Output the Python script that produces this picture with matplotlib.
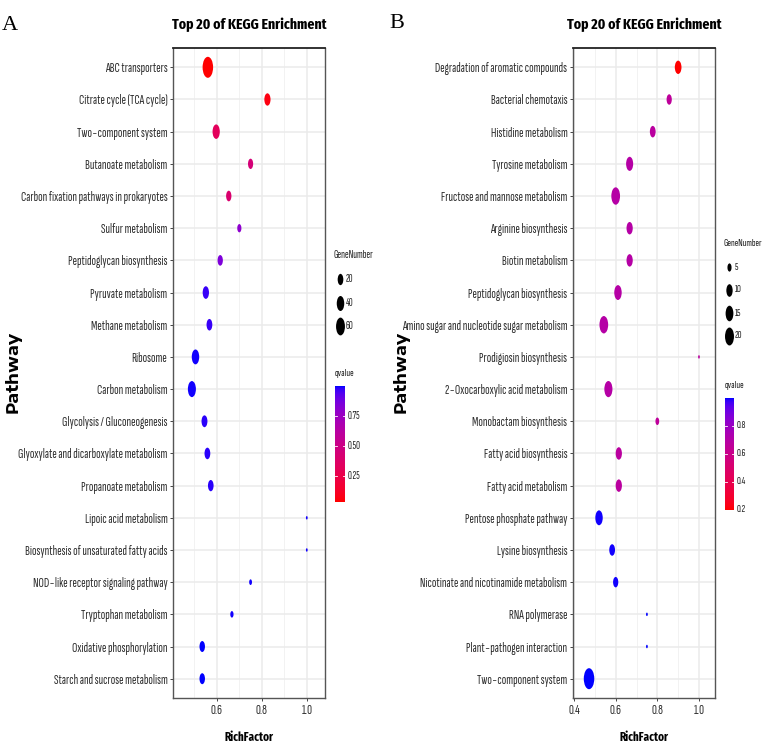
import numpy as np
import matplotlib
matplotlib.use("Agg")
import matplotlib.pyplot as plt
from matplotlib.path import Path
from matplotlib.transforms import Affine2D
from matplotlib.colors import ListedColormap, Normalize

# ---------------- data ----------------
pathways_a = ["ABC transporters", "Citrate cycle (TCA cycle)", "Two\u2212component system",
              "Butanoate metabolism", "Carbon fixation pathways in prokaryotes",
              "Sulfur metabolism", "Peptidoglycan biosynthesis", "Pyruvate metabolism",
              "Methane metabolism", "Ribosome", "Carbon metabolism",
              "Glycolysis / Gluconeogenesis", "Glyoxylate and dicarboxylate metabolism",
              "Propanoate metabolism", "Lipoic acid metabolism",
              "Biosynthesis of unsaturated fatty acids", "NOD\u2212like receptor signaling pathway",
              "Tryptophan metabolism", "Oxidative phosphorylation", "Starch and sucrose metabolism"]
rich_a = [0.56, 0.825, 0.597, 0.75, 0.653, 0.70, 0.615, 0.551, 0.567, 0.505,
          0.489, 0.545, 0.558, 0.573, 1.0, 1.0, 0.75, 0.667, 0.535, 0.535]
genes_a = [68, 19, 28, 12, 13, 7, 13, 20, 16, 30, 36, 17, 16, 15, 2, 2, 3, 4, 14, 14]
qval_a = [0.033, 0.06, 0.32, 0.44, 0.40, 0.80, 0.85, 0.97, 0.97, 0.99,
          0.99, 0.98, 0.98, 0.98, 0.99, 0.99, 0.99, 0.99, 0.997, 0.997]

pathways_b = ["Degradation of aromatic compounds", "Bacterial chemotaxis", "Histidine metabolism",
              "Tyrosine metabolism", "Fructose and mannose metabolism", "Arginine biosynthesis",
              "Biotin metabolism", "Peptidoglycan biosynthesis",
              "Amino sugar and nucleotide sugar metabolism", "Prodigiosin biosynthesis",
              "2\u2212Oxocarboxylic acid metabolism", "Monobactam biosynthesis",
              "Fatty acid biosynthesis", "Fatty acid metabolism", "Pentose phosphate pathway",
              "Lysine biosynthesis", "Nicotinate and nicotinamide metabolism", "RNA polymerase",
              "Plant\u2212pathogen interaction", "Two\u2212component system"]
rich_b = [0.9, 0.857, 0.778, 0.667, 0.6, 0.667, 0.667, 0.611, 0.543, 1.0,
          0.565, 0.8, 0.615, 0.615, 0.52, 0.583, 0.6, 0.75, 0.75, 0.472]
genes_b = [9, 6, 7, 10, 15, 8, 8, 11, 15, 3, 13, 4, 8, 8, 11, 7, 6, 3, 3, 22]
qval_b = [0.2, 0.66, 0.68, 0.70, 0.70, 0.70, 0.70, 0.70, 0.70, 0.68,
          0.70, 0.66, 0.68, 0.68, 0.995, 0.995, 0.995, 0.998, 0.998, 1.0]

xticks_a = [0.6, 0.8, 1.0]
xticks_b = [0.4, 0.6, 0.8, 1.0]
size_breaks_a = [20, 40, 60]
size_breaks_b = [5, 10, 15, 20]
cbar_ticks_a = [0.25, 0.50, 0.75]
cbar_ticks_b = [0.2, 0.4, 0.6, 0.8]

# ---------------- helpers ----------------
W, H = 767, 750
COND = ['Sofia Sans Extra Condensed', 'DejaVu Sans']
BOLDC = ['Fira Sans Extra Condensed', 'DejaVu Sans']
WIDE = ['Encode Sans Expanded', 'DejaVu Sans']


def srgb_to_lab(rgb):
    c = np.asarray(rgb, float)
    lin = np.where(c <= 0.04045, c / 12.92, ((c + 0.055) / 1.055) ** 2.4)
    M = np.array([[0.4124, 0.3576, 0.1805], [0.2126, 0.7152, 0.0722], [0.0193, 0.1192, 0.9505]])
    xyz = M @ lin / np.array([0.95047, 1.0, 1.08883])
    f = np.where(xyz > 0.008856, np.cbrt(xyz), 7.787 * xyz + 16 / 116)
    return np.array([116 * f[1] - 16, 500 * (f[0] - f[1]), 200 * (f[1] - f[2])])


def lab_to_srgb(lab):
    L, a, b = lab
    fy = (L + 16) / 116
    fx = fy + a / 500
    fz = fy - b / 200
    f = np.array([fx, fy, fz])
    xyz = np.where(f ** 3 > 0.008856, f ** 3, (f - 16 / 116) / 7.787) * np.array([0.95047, 1.0, 1.08883])
    Minv = np.linalg.inv(np.array([[0.4124, 0.3576, 0.1805], [0.2126, 0.7152, 0.0722], [0.0193, 0.1192, 0.9505]]))
    lin = np.clip(Minv @ xyz, 0, 1)
    c = np.where(lin <= 0.0031308, 12.92 * lin, 1.055 * lin ** (1 / 2.4) - 0.055)
    return np.clip(c, 0, 1)


lab_lo = srgb_to_lab([1, 0, 0])
lab_hi = srgb_to_lab([0, 0, 1])
cmap = ListedColormap([lab_to_srgb(lab_lo + (lab_hi - lab_lo) * t) for t in np.linspace(0, 1, 256)])

ell = Path.unit_circle().transformed(Affine2D().scale(0.5, 1.0))
K = 3.5


def msize(n, nmin, nmax):
    t = (np.asarray(n, float) - nmin) / (nmax - nmin)
    d_px = K * (1 + 5 * np.sqrt(np.clip(t, 0, None)))
    return (d_px * 72 / 100) ** 2


def fax(l, t, r, b):
    return [l / W, 1 - b / H, (r - l) / W, (b - t) / H]


fig = plt.figure(figsize=(W / 100, H / 100), dpi=100)
ov = fig.add_axes([0, 0, 1, 1], zorder=5)
ov.set_xlim(0, W)
ov.set_ylim(H, 0)
ov.axis('off')
ov.patch.set_alpha(0)

fits = []  # (list of texts, reference text, target width px)


def panel(rect, paths, rich, genes, qv, xlim, xticks, minor, letter, letter_xy,
          path_x, lab_w, sbreaks, sbreak_y, leg_x, cb_box, cb_ticks, cb_fmt, gn_w, num_s):
    ax = fig.add_axes(fax(*rect))
    n = len(paths)
    y = np.arange(n)
    nmin, nmax = min(genes), max(genes)
    norm = Normalize(min(qv), max(qv))
    ax.scatter(rich, y, s=msize(genes, nmin, nmax), c=qv, cmap=cmap, norm=norm,
               marker=ell, linewidths=0, zorder=3)
    ax.set_xlim(*xlim)
    ax.set_ylim(n - 0.4, -0.6)
    ax.set_yticks(y)
    ax.set_yticklabels(paths, family=COND, color='#2e2e2e')
    ax.set_xticks(xticks)
    ax.set_xticklabels([f"{v:.1f}" for v in xticks], family=COND, color='#2e2e2e')
    ax.set_xticks(minor, minor=True)
    ax.tick_params(axis='both', which='major', length=2.5, width=0.7, color='#444444', pad=1.5)
    ax.tick_params(axis='x', which='minor', length=0)
    ax.grid(True, which='major', color='#EBEBEB', lw=1.1, zorder=0)
    ax.grid(True, which='minor', axis='x', color='#F2F2F2', lw=0.7, zorder=0)
    ax.set_axisbelow(True)
    for sp in ax.spines.values():
        sp.set_color('#555555')
        sp.set_linewidth(1.0)
    ax.spines['top'].set_color('#222222')
    ax.spines['top'].set_linewidth(1.3)
    fits.append(('yt', ax, lab_w))
    fits.append(('xt', ax, 12))

    cx = (rect[0] + rect[2]) / 2
    tt = ov.text(cx, 25, "Top 20 of KEGG Enrichment", ha='center', va='center',
                 family=BOLDC, fontweight='bold', color='black')
    fits.append(([tt], tt, 155))
    xl = ov.text(cx, 737, "RichFactor", ha='center', va='center', family=BOLDC,
                 fontweight='bold', color='black')
    fits.append(([xl], xl, 49))
    pl = ov.text(path_x, 372, "Pathway", ha='center', va='center', rotation=90,
                 family=WIDE, fontweight='bold', color='black')
    fits.append(([pl], pl, 82))
    ov.text(*letter_xy, letter, ha='center', va='center', family='Liberation Serif',
            fontsize=16, color='black')

    # size legend
    gt = ov.text(leg_x - 6, sbreak_y[0] - 24, "GeneNumber", ha='left', va='center',
                 family=COND, color='#222222', fontsize=7)
    fits.append(([gt], gt, gn_w))
    nums = []
    for v, yy in zip(sbreaks, sbreak_y):
        ov.scatter([leg_x], [yy], s=msize(v, nmin, nmax) * 0.8, c='black', marker=ell, linewidths=0)
        nums.append(ov.text(leg_x + 6, yy, str(v), ha='left', va='center', family=COND,
                            color='#222222', fontsize=7))
    # colour bar
    l, t, r, b = cb_box
    grad = np.linspace(norm.vmax, norm.vmin, 200).reshape(-1, 1)
    ov.imshow(grad, cmap=cmap, norm=norm, extent=[l, r, b, t], aspect='auto', zorder=4)
    qt = ov.text(l, t - 13, "qvalue", ha='left', va='center', family=COND,
                 color='#222222', fontsize=7)
    fits.append(([qt], qt, 20))
    cts = []
    for v in cb_ticks:
        yy = b - (v - norm.vmin) / (norm.vmax - norm.vmin) * (b - t)
        ov.plot([l, l + 2], [yy, yy], color='white', lw=0.6, zorder=6)
        ov.plot([r - 2, r], [yy, yy], color='white', lw=0.6, zorder=6)
        cts.append(ov.text(r + 2.5, yy, cb_fmt.format(v), ha='left', va='center', family=COND,
                           color='#222222', fontsize=7))
    fits.append((cts + nums, cts[0], num_s))
    return ax


ax_a = panel((173, 48, 325, 698), pathways_a, rich_a, genes_a, qval_a, (0.405, 1.081),
             xticks_a, [0.5, 0.7, 0.9], "A", (10, 26), 13, 148,
             size_breaks_a, [279, 303, 326], 340, (335, 386, 345, 502), cbar_ticks_a, "{:.2f}",
             40, 13)
ax_b = panel((573, 48, 715, 698), pathways_b, rich_b, genes_b, qval_b, (0.395, 1.077),
             xticks_b, [0.5, 0.7, 0.9], "B", (397, 24), 401, 164,
             size_breaks_b, [267, 290, 313, 336], 729, (725, 398, 734, 510), cbar_ticks_b, "{:.1f}",
             39, 10)

# ---------------- fit text sizes to the reference widths ----------------
fig.canvas.draw()
rend = fig.canvas.get_renderer()
for item in fits:
    if item[0] in ('yt', 'xt'):
        kind, ax, target = item
        labs = ax.get_yticklabels() if kind == 'yt' else ax.get_xticklabels()
        w = max(tl.get_window_extent(rend).width for tl in labs)
        fs = labs[0].get_fontsize() * target / w
        for tl in labs:
            tl.set_fontsize(fs)
    else:
        group, ref, target = item
        bb = ref.get_window_extent(rend)
        length = max(bb.width, bb.height)
        fs = ref.get_fontsize() * target / length
        for txt in group:
            txt.set_fontsize(fs)

fig.savefig("out.png", dpi=100)
